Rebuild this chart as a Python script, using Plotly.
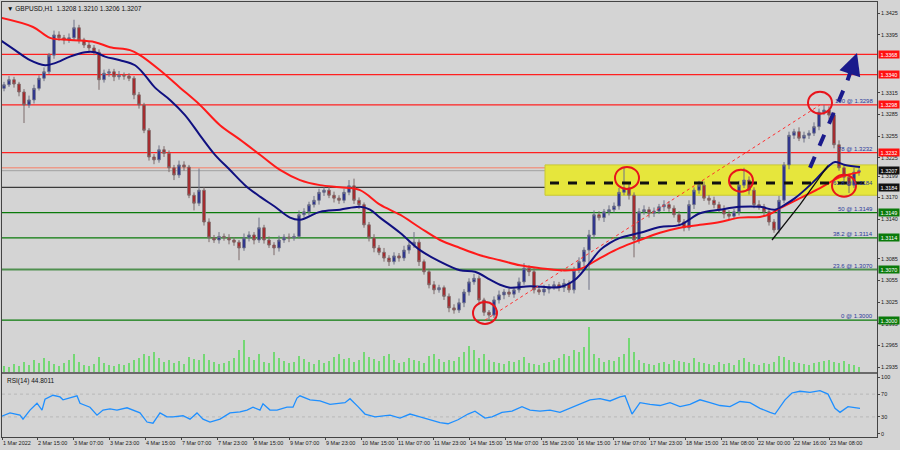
import plotly.graph_objects as go

# ---------------- data ----------------
closes = [1.3326,1.3333,1.3327,1.3316,1.3298,1.3305,1.3321,1.3335,1.3344,1.3367,
          1.3395,1.3391,1.3388,1.3391,1.3405,1.3388,1.3381,1.3377,1.3371,1.3333,
          1.3342,1.3344,1.3337,1.3339,1.3338,1.3335,1.3312,1.3298,1.3263,1.3226,
          1.3222,1.3236,1.3231,1.3211,1.3201,1.3215,1.3212,1.3173,1.3162,1.3180,
          1.3136,1.3114,1.3111,1.3116,1.3114,1.3111,1.3108,1.3100,1.3114,1.3118,
          1.3111,1.3128,1.3111,1.3104,1.3100,1.3111,1.3115,1.3114,1.3116,1.3146,
          1.3150,1.3160,1.3166,1.3177,1.3180,1.3173,1.3169,1.3166,1.3177,1.3186,
          1.3166,1.3160,1.3132,1.3114,1.3100,1.3094,1.3086,1.3081,1.3089,1.3086,
          1.3097,1.3104,1.3108,1.3081,1.3067,1.3049,1.3042,1.3045,1.3033,1.3017,
          1.3014,1.3024,1.3039,1.3053,1.3058,1.3028,1.3011,1.3007,1.3028,1.3035,
          1.3039,1.3036,1.3042,1.3053,1.3072,1.3067,1.3042,1.3039,1.3043,1.3046,
          1.3049,1.3045,1.3051,1.3042,1.3069,1.3081,1.3097,1.3118,1.3146,1.3142,
          1.3150,1.3153,1.3158,1.3177,1.3183,1.3173,1.3111,1.3150,1.3153,1.3148,
          1.3151,1.3157,1.3160,1.3155,1.3146,1.3136,1.3128,1.3160,1.3180,1.3187,
          1.3169,1.3166,1.3160,1.3153,1.3147,1.3144,1.3150,1.3187,1.3194,1.3180,
          1.3160,1.3157,1.3150,1.3136,1.3125,1.3166,1.3215,1.3256,1.3261,1.3252,
          1.3256,1.3259,1.3268,1.3288,1.3291,1.3284,1.3243,1.3211,1.3198,1.3187,
          1.3205,1.3207]
first_open = 1.3321

upper_wick_pips = [4,5,4,3,4,6,5,4,6,3,
                   6,5,4,6,11,4,3,5,4,4,
                   5,4,4,6,4,4,3,4,3,3,
                   4,6,5,4,4,6,5,3,4,30,
                   4,5,4,6,4,5,4,3,6,5,
                   4,14,4,5,4,6,4,5,4,6,
                   5,4,6,5,4,6,5,4,5,8,
                   10,4,3,4,5,4,6,4,5,4,
                   6,5,14,4,3,4,5,4,3,4,
                   5,6,4,5,6,4,3,3,5,6,
                   4,5,4,6,7,4,5,4,6,4,
                   5,4,6,4,5,6,4,7,6,5,
                   4,6,5,6,29,6,4,5,6,4,
                   5,4,6,5,4,5,4,6,4,6,
                   5,4,5,4,6,5,4,6,17,5,
                   4,6,4,5,4,6,4,5,4,6,
                   5,4,6,5,7,5,4,6,5,4,
                   6,4]
lower_wick_pips = [4,3,5,6,25,4,5,3,4,3,
                   5,4,6,4,4,5,4,6,4,14,
                   4,5,6,4,5,4,6,5,4,5,
                   6,4,5,6,7,4,5,4,10,4,
                   5,6,4,5,4,6,5,17,4,5,
                   6,4,5,4,10,5,4,6,4,3,
                   4,5,4,6,5,4,6,5,4,4,
                   5,6,4,5,6,4,5,6,4,5,
                   4,5,4,6,4,5,6,4,5,6,
                   5,4,6,5,4,6,5,7,4,5,
                   6,4,5,4,4,6,5,4,5,6,
                   4,5,6,4,5,4,6,55,5,4,
                   6,5,4,5,4,6,24,5,4,6,
                   5,4,6,5,4,6,5,4,6,5,
                   4,6,5,4,6,5,4,5,4,6,
                   5,4,6,5,4,5,4,6,5,4,
                   6,5,4,5,4,6,5,4,5,11,
                   4,5]
volumes = [6,5,8,6,10,7,12,9,14,11,
           8,6,9,12,18,10,7,6,8,15,
           9,7,6,8,7,9,12,14,18,16,
           20,14,10,12,9,11,8,15,13,12,
           18,12,10,8,9,11,14,22,32,15,
           12,18,10,9,20,14,11,9,10,16,
           13,10,8,12,9,11,15,18,13,14,
           10,12,20,15,13,11,16,18,12,9,
           10,14,12,11,9,16,18,13,10,12,
           11,15,20,26,22,14,18,12,10,9,
           8,11,10,12,15,9,8,7,9,10,
           12,14,18,16,22,20,25,45,18,14,
           10,12,11,15,18,34,20,12,9,8,
           7,9,10,8,12,11,10,9,14,10,
           9,8,7,10,8,9,7,12,14,10,
           8,7,9,8,10,16,15,12,10,9,
           8,7,9,10,11,12,10,9,11,8,
           7,5]

red_ma_pos = [-0.8,5.8,9.2,13.2,18.2,21.2,25.2,27.2,31.2,35.2,39.2,43.2,47.2,51.2,55.2,
              59.2,63.2,67.2,71.2,75.2,79.2,83.2,87.2,91.2,95.2,99.2,103.2,107.2,111.2,115.2,
              119.2,123.2,127.2,131.2,135.2,139.2,143.2,147.2,151.2,153.2,155.2,159.2,163.2,167.2,171.2]
red_ma = [1.3419,1.3406,1.3391,1.3388,1.3385,1.3378,1.3374,1.3367,1.3346,1.3322,
          1.3298,1.3270,1.3250,1.3229,1.3208,1.3194,1.3187,1.3184,1.3180,1.3160,
          1.3146,1.3128,1.3111,1.3100,1.3090,1.3083,1.3076,1.3072,1.3069,1.3071,
          1.3086,1.3100,1.3111,1.3121,1.3128,1.3132,1.3136,1.3142,1.3143,1.3147,
          1.3155,1.3169,1.3183,1.3198,1.3205]

blue_ma_pos = [-0.8,2.2,5.2,8.2,10.2,13.2,16.2,18.2,20.2,23.2,26.2,28.2,30.2,33.2,36.2,
               39.2,42.2,45.2,48.2,51.2,54.2,57.2,59.2,63.2,67.2,71.2,73.2,75.2,79.2,83.2,
               87.2,91.2,94.2,97.2,99.2,101.2,105.2,111.2,114.2,117.2,119.2,121.2,123.2,127.2,131.2,
               135.2,139.2,143.2,147.2,151.2,154.2,156.2,158.2,161.2,163.2,165.2,166.2,168.2,171.2]
blue_ma = [1.3388,1.3374,1.3360,1.3353,1.3356,1.3365,1.3371,1.3371,1.3365,1.3360,
           1.3353,1.3339,1.3322,1.3305,1.3284,1.3256,1.3229,1.3208,1.3187,1.3171,
           1.3157,1.3142,1.3139,1.3150,1.3153,1.3157,1.3153,1.3142,1.3121,1.3097,
           1.3081,1.3069,1.3067,1.3056,1.3049,1.3045,1.3047,1.3046,1.3056,1.3080,
           1.3097,1.3107,1.3114,1.3121,1.3129,1.3132,1.3148,1.3153,1.3157,1.3157,
           1.3153,1.3160,1.3169,1.3187,1.3201,1.3215,1.3219,1.3215,1.3212]

black_ma_pos = [153.6, 159.2, 164.8]
black_ma = [1.3111, 1.3160, 1.3214]

rsi_pos = [-0.8,1.2,3.2,3.8,5.2,6.6,7.6,8.2,9.8,11.2,11.8,13.2,14.6,15.2,17.2,18.6,19.8,21.2,22.6,24.6,
           26.6,27.2,28.6,29.8,31.2,32.6,33.8,35.8,37.2,38.6,39.8,41.2,43.2,45.2,47.2,48.6,49.8,51.2,51.8,53.2,
           54.6,56.6,57.8,58.6,59.2,61.2,63.2,65.2,68.2,69.2,70.8,72.2,74.2,77.2,79.2,81.2,83.2,85.2,87.2,88.8,
           90.8,92.8,94.2,96.2,97.6,99.6,101.6,103.6,105.2,107.2,109.2,111.2,113.2,115.2,117.2,119.2,121.2,123.2,124.2,125.6,
           127.2,129.2,131.2,133.2,135.2,137.2,139.2,141.2,143.2,145.2,147.2,149.2,151.2,153.2,154.2,156.2,157.6,159.2,161.2,163.2,
           164.8,166.2,167.2,168.8,170.2,171.2]
rsi_vals = [30,37,33,26,42,54,42,61,68,65,60,63,67,54,47,33,42,44,42,46,
            39,37,21,19,37,30,30,32,26,37,26,21,26,37,39,42,47,42,53,42,
            42,47,47,63,67,60,58,52,55,62,48,35,30,33,28,35,30,25,20,18,
            25,35,40,28,30,38,40,48,42,40,42,38,45,52,60,62,58,65,67,35,
            55,52,50,55,48,52,60,55,50,48,57,55,45,38,35,60,72,75,73,76,
            70,45,38,48,46,45]

x_tick_pos = [-0.4,6.6,13.8,21.0,28.2,35.4,42.6,49.8,57.0,64.2,71.4,78.6,85.8,93.0,
              100.2,107.4,114.6,121.8,129.0,136.2,143.4,150.6,157.8,165.0]
x_tick_text = ["1 Mar 2022","2 Mar 15:00","3 Mar 07:00","3 Mar 23:00","4 Mar 15:00","7 Mar 07:00",
               "7 Mar 23:00","8 Mar 15:00","9 Mar 07:00","9 Mar 23:00","10 Mar 15:00","11 Mar 07:00",
               "11 Mar 23:00","14 Mar 15:00","15 Mar 07:00","15 Mar 23:00","16 Mar 15:00","17 Mar 07:00",
               "17 Mar 23:00","18 Mar 15:00","21 Mar 08:00","22 Mar 00:00","22 Mar 16:00","23 Mar 08:00"]
y_tick_vals = [1.3425,1.3395,1.3315,1.3285,1.3255,1.3225,1.3199,1.3170,1.3140,
               1.3085,1.3055,1.3025,1.2995,1.2965,1.2935]
rsi_ticks = [0, 30, 70, 100]

red_levels = [1.3368, 1.3340, 1.3298, 1.3232]
green_levels = [1.3149, 1.3114, 1.3070, 1.3000]
bid_level = 1.3207
pink_level = 1.3211
black_level = 1.3184
fib_levels = [1.3298, 1.3232, 1.3184, 1.3149, 1.3114, 1.3070, 1.3000]
fib_texts = ["100 @ 1.3298", "78 @ 1.3232", "61.8 @ 1.3184", "50 @ 1.3149",
             "38.2 @ 1.3114", "23.6 @ 1.3070", "0 @ 1.3000"]
zone_low, zone_high = 1.3173, 1.3215
zone_start = 108.2
dash_level, dash_start = 1.3190, 109.2
fib_low_pt = (96.2, 1.3000)
fib_high_pt = (163.2, 1.3298)
circles = [(96.2, 1.3010), (124.6, 1.3197), (147.4, 1.3193), (163.2, 1.3301), (168.0, 1.3186)]
arrow_tail = (161.2, 1.3211)
arrow_mid = (168.6, 1.3330)
arrow_tip = (170.6, 1.3370)

# ---------------- build ----------------
N = len(closes)
idx = list(range(N))
opens = [first_open] + closes[:-1]
highs = [max(o, c) + u / 10000 for o, c, u in zip(opens, closes, upper_wick_pips)]
lows = [min(o, c) - l / 10000 for o, c, l in zip(opens, closes, lower_wick_pips)]

BG = "#d4d4d4"
FONT = "Liberation Sans"
fig = go.Figure()

fig.add_trace(go.Bar(x=idx, y=volumes, marker_color="#74d874", marker_line_width=0,
                     width=0.35, xaxis="x", yaxis="y2", showlegend=False))
fig.add_trace(go.Candlestick(
    x=idx, open=opens, high=highs, low=lows, close=closes,
    increasing=dict(line=dict(color="#6f7287", width=1), fillcolor="#1a2090"),
    decreasing=dict(line=dict(color="#7d6a6a", width=1), fillcolor="#b3161b"),
    xaxis="x", yaxis="y", showlegend=False, whiskerwidth=0))
fig.add_trace(go.Scatter(x=red_ma_pos, y=red_ma, mode="lines", line=dict(color="#ff1a1a", width=2, shape="spline"),
                         xaxis="x", yaxis="y", showlegend=False))
fig.add_trace(go.Scatter(x=blue_ma_pos, y=blue_ma, mode="lines", line=dict(color="#101080", width=2, shape="spline"),
                         xaxis="x", yaxis="y", showlegend=False))
fig.add_trace(go.Scatter(x=black_ma_pos, y=black_ma, mode="lines", line=dict(color="#111111", width=1.3),
                         xaxis="x", yaxis="y", showlegend=False))
fig.add_trace(go.Scatter(x=[fib_low_pt[0], fib_high_pt[0]], y=[fib_low_pt[1], fib_high_pt[1]], mode="lines",
                         line=dict(color="#ff3030", width=1, dash="dot"), xaxis="x", yaxis="y", showlegend=False))
fig.add_trace(go.Scatter(x=[arrow_tail[0], arrow_mid[0]], y=[arrow_tail[1], arrow_mid[1]], mode="lines",
                         line=dict(color="#1a1a8c", width=4, dash="dash"), xaxis="x", yaxis="y", showlegend=False))
fig.add_trace(go.Scatter(x=rsi_pos, y=rsi_vals, mode="lines", line=dict(color="#1e8fff", width=1.3),
                         xaxis="x2", yaxis="y3", showlegend=False))

shapes = []
shapes.append(dict(type="rect", xref="x", yref="y", x0=zone_start, x1=180, y0=zone_low, y1=zone_high,
                   fillcolor="#e6e63c", line=dict(color="#c8c832", width=1), layer="below"))
for lv in red_levels:
    shapes.append(dict(type="line", xref="paper", yref="y", x0=0, x1=1, y0=lv, y1=lv,
                       line=dict(color="#ff2020", width=1.2), layer="below"))
shapes.append(dict(type="line", xref="paper", yref="y", x0=0, x1=1, y0=pink_level, y1=pink_level,
                   line=dict(color="#ec9a8a", width=1.5), layer="below"))
shapes.append(dict(type="line", xref="paper", yref="y", x0=0, x1=1, y0=bid_level, y1=bid_level,
                   line=dict(color="#a0a0a0", width=1), layer="below"))
shapes.append(dict(type="line", xref="paper", yref="y", x0=0, x1=1, y0=black_level, y1=black_level,
                   line=dict(color="#3a3a3a", width=1.2), layer="below"))
for k, lv in enumerate(green_levels):
    shapes.append(dict(type="line", xref="paper", yref="y", x0=0, x1=1, y0=lv, y1=lv,
                       line=dict(color="#4f8f4f" if k == 2 else "#0a7a0a", width=2 if k == 2 else 1.2),
                       layer="below"))
shapes.append(dict(type="line", xref="x", yref="y", x0=dash_start, x1=172, y0=dash_level, y1=dash_level,
                   line=dict(color="#111111", width=3, dash="dash")))
for cx, cy in circles:
    shapes.append(dict(type="circle", xref="x", yref="y", xsizemode="pixel", ysizemode="pixel",
                       xanchor=cx, yanchor=cy, x0=-12, x1=12, y0=-11, y1=11,
                       line=dict(color="#e8141c", width=2)))
for lv in (70, 30):
    shapes.append(dict(type="line", xref="paper", yref="y3", x0=0, x1=1, y0=lv, y1=lv,
                       line=dict(color="#b8b8b8", width=1, dash="dot"), layer="below"))
shapes.append(dict(type="line", xref="paper", yref="paper", x0=0, x1=1.0, y0=0.1471, y1=0.1471,
                   line=dict(color="#6a6a6a", width=2)))

ann = []
ann.append(dict(x=arrow_tip[0], y=arrow_tip[1], ax=arrow_mid[0], ay=arrow_mid[1], axref="x", ayref="y",
                xref="x", yref="y", text="", showarrow=True, arrowhead=2, arrowsize=1.1, arrowwidth=4,
                arrowcolor="#1a1a8c"))
for lv, t in zip(fib_levels, fib_texts):
    ann.append(dict(x=0.998, y=lv, xref="paper", yref="y", text=t, showarrow=False, xanchor="right",
                    yanchor="bottom", yshift=-1, font=dict(family=FONT, size=6, color="#2a3a9a")))
label_specs = ([(lv, "#ff1010") for lv in red_levels] + [(bid_level, "#111111"), (black_level, "#111111")]
               + [(lv, "#0a7a0a") for lv in green_levels])
for lv, col in label_specs:
    ann.append(dict(x=1, y=lv, xref="paper", yref="y", text=f"{lv:.4f}", showarrow=False,
                    xanchor="left", xshift=1, bgcolor=col, width=20, height=7, borderpad=0,
                    font=dict(family=FONT, size=5.5, color="#ffffff")))
ann.append(dict(x=0.003, y=0.997, xref="paper", yref="paper", xanchor="left", yanchor="top", showarrow=False,
                text="\u25BC GBPUSD,H1  1.3208 1.3210 1.3206 1.3207",
                font=dict(family=FONT, size=6.5, color="#111111")))
ann.append(dict(x=0.003, y=0.143, xref="paper", yref="paper", xanchor="left", yanchor="top", showarrow=False,
                text="RSI(14) 44.8011", font=dict(family=FONT, size=6.5, color="#111111")))

axis_font = dict(family=FONT, size=5.5, color="#1a1a1a")
fig.update_layout(
    width=900, height=450, margin=dict(l=2, r=23, t=2, b=13, autoexpand=False),
    paper_bgcolor=BG, plot_bgcolor=BG, showlegend=False,
    shapes=shapes, annotations=ann, bargap=0,
    xaxis=dict(domain=[0, 1], range=[-0.4, 174.6], anchor="y", showgrid=False, zeroline=False,
               showticklabels=False, rangeslider=dict(visible=False), showline=True, linecolor="#444",
               mirror=True, linewidth=1, automargin=False),
    xaxis2=dict(domain=[0, 1], range=[-0.4, 174.6], anchor="y3", matches="x", showgrid=False, zeroline=False,
                tickmode="array", tickvals=x_tick_pos, ticktext=x_tick_text, ticks="outside", ticklen=2,
                tickcolor="#444", tickfont=axis_font, ticklabelposition="outside right", tickangle=0,
                showline=True, linecolor="#444", mirror=True, linewidth=1, automargin=False),
    yaxis=dict(domain=[0.1494, 1], range=[1.29282, 1.34406], side="right", anchor="x", showgrid=False,
               zeroline=False, tickmode="array", tickvals=y_tick_vals, ticktext=[f"{v:.4f}" for v in y_tick_vals],
               ticks="outside", ticklen=2, tickcolor="#444", tickfont=axis_font, automargin=False,
               showline=True, linecolor="#444", mirror=True, linewidth=1),
    yaxis2=dict(domain=[0.1494, 1], range=[0, 370], overlaying="y", anchor="x", visible=False),
    yaxis3=dict(domain=[0, 0.1448], range=[-5.3, 105.3], side="right", anchor="x2", showgrid=False,
                zeroline=False, tickmode="array", tickvals=rsi_ticks, ticks="outside", ticklen=2, automargin=False,
                tickcolor="#444", tickfont=axis_font, showline=True, linecolor="#444", mirror=True, linewidth=1),
)

fig.write_html("out.html", config={"displayModeBar": False},
               post_script="document.body.style.margin='0';document.body.style.background='#d4d4d4';")
